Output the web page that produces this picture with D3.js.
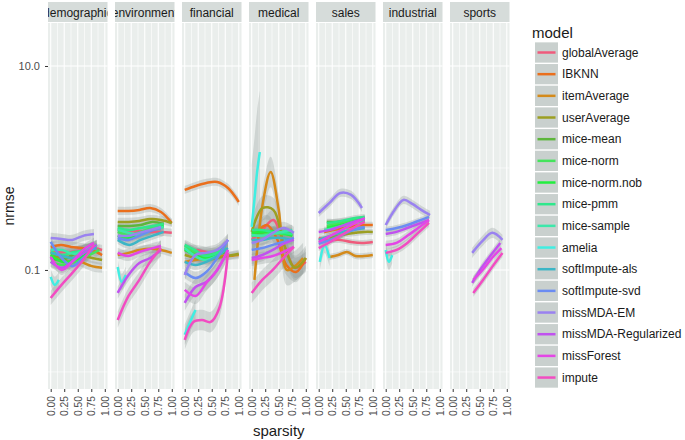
<!DOCTYPE html>
<html lang="en">
<head>
<meta charset="UTF-8">
<title>nrmse by sparsity</title>
<script src="https://cdn.jsdelivr.net/npm/d3@7"></script>
<style>
  body { margin: 0; background: #fff; }
  svg { display: block; font-family: 'Liberation Sans', Arial, sans-serif; }
</style>
</head>
<body>
<svg width="685" height="440"></svg>
<script>
const panels = ['demographic', 'environment', 'financial', 'medical', 'sales', 'industrial', 'sports']
const models = ['globalAverage', 'IBKNN', 'itemAverage', 'userAverage', 'mice-mean', 'mice-norm',
  'mice-norm.nob', 'mice-pmm', 'mice-sample', 'amelia', 'softImpute-als', 'softImpute-svd',
  'missMDA-EM', 'missMDA-Regularized', 'missForest', 'impute']
const xTicks = [0, 0.25, 0.5, 0.75, 1]
const yTicks = [0.1, 10]

// [model, sparsity from, sparsity to, nrmse (evenly spaced), se in log10]
const demographic = [
  ['globalAverage', 0, 0.95, [0.157, 0.150, 0.150, 0.157, 0.164, 0.157], 0.05],
  ['IBKNN', 0, 0.95, [0.168, 0.176, 0.168, 0.164, 0.157, 0.140], 0.05],
  ['itemAverage', 0, 0.95, [0.150, 0.140, 0.131, 0.120, 0.109, 0.105], 0.05],
  ['userAverage', 0, 0.95, [0.140, 0.131, 0.120, 0.137, 0.131, 0.125], 0.05],
  ['mice-mean', 0, 0.8, [0.131, 0.125, 0.140, 0.157, 0.168], 0.05],
  ['mice-norm', 0, 0.9, [0.120, 0.112, 0.120, 0.137, 0.157], 0.05],
  ['mice-norm.nob', 0, 0.85, [0.140, 0.120, 0.125, 0.140, 0.176], 0.05],
  ['mice-pmm', 0, 0.85, [0.150, 0.140, 0.150, 0.157, 0.172], 0.05],
  ['mice-sample', 0, 0.85, [0.157, 0.157, 0.144, 0.157, 0.176], 0.05],
  ['amelia', 0, 0.15, [0.0854, 0.0713, 0.0798], 0.08],
  ['softImpute-als', 0, 0.85, [0.147, 0.137, 0.131, 0.150, 0.164], 0.05],
  ['softImpute-svd', 0, 0.8, [0.188, 0.131, 0.109, 0.131, 0.164], 0.05],
  ['missMDA-EM', 0, 0.8, [0.206, 0.201, 0.197, 0.216, 0.225], 0.05],
  ['missMDA-Regularized', 0, 0.85, [0.120, 0.105, 0.125, 0.150, 0.176], 0.05],
  ['missForest', 0, 0.8, [0.134, 0.100, 0.120, 0.157, 0.184], 0.05],
  ['impute', 0, 0.8, [0.0531, 0.0713, 0.0935, 0.125, 0.176], 0.07]
]
const environment = [
  ['globalAverage', 0, 1, [0.247, 0.241, 0.241, 0.236, 0.236, 0.231], 0.04],
  ['IBKNN', 0, 1, [0.379, 0.379, 0.388, 0.405, 0.370, 0.289], 0.04],
  ['itemAverage', 0, 1, [0.140, 0.147, 0.157, 0.161, 0.157, 0.147], 0.04],
  ['userAverage', 0, 1, [0.296, 0.296, 0.302, 0.316, 0.309, 0.289], 0.04],
  ['mice-mean', 0, 0.85, [0.270, 0.270, 0.276, 0.296, 0.282], 0.04],
  ['mice-norm', 0, 0.85, [0.236, 0.220, 0.236, 0.258, 0.276], 0.04],
  ['mice-norm.nob', 0, 0.85, [0.216, 0.206, 0.225, 0.247, 0.270], 0.04],
  ['mice-pmm', 0, 0.85, [0.258, 0.247, 0.258, 0.270, 0.282], 0.04],
  ['mice-sample', 0, 0.85, [0.247, 0.231, 0.220, 0.247, 0.264], 0.04],
  ['amelia', 0, 0.15, [0.107, 0.0763, 0.0893], 0.08],
  ['softImpute-als', 0, 0.85, [0.197, 0.176, 0.197, 0.216, 0.236], 0.04],
  ['softImpute-svd', 0, 0.8, [0.206, 0.197, 0.216, 0.241, 0.258], 0.04],
  ['missMDA-EM', 0, 0.8, [0.216, 0.216, 0.231, 0.247, 0.264], 0.04],
  ['missMDA-Regularized', 0, 0.8, [0.0595, 0.0893, 0.117, 0.131, 0.157], 0.06],
  ['missForest', 0, 0.8, [0.147, 0.137, 0.150, 0.161, 0.172], 0.05],
  ['impute', 0, 0.8, [0.0323, 0.0556, 0.0798, 0.120, 0.164], 0.08]
]
const financial = [
  ['globalAverage', 0, 0.8, [0.157, 0.157, 0.150, 0.147, 0.157], 0.05],
  ['IBKNN', 0, 1, [0.609, 0.666, 0.713, 0.729, 0.637, 0.464], 0.04],
  ['itemAverage', 0, 1, [0.120, 0.125, 0.131, 0.137, 0.137, 0.140], 0.04],
  ['userAverage', 0, 1, [0.140, 0.131, 0.125, 0.131, 0.137, 0.144], 0.04],
  ['mice-mean', 0, 0.75, [0.164, 0.150, 0.140, 0.140, 0.150], 0.05],
  ['mice-norm', 0, 0.75, [0.172, 0.150, 0.144, 0.150, 0.172], 0.05],
  ['mice-norm.nob', 0, 0.75, [0.157, 0.140, 0.131, 0.140, 0.157], 0.05],
  ['mice-pmm', 0, 0.75, [0.176, 0.157, 0.137, 0.144, 0.164], 0.05],
  ['mice-sample', 0, 0.75, [0.164, 0.137, 0.125, 0.134, 0.157], 0.05],
  ['amelia', 0, 0.2, [0.0231, 0.0309, 0.0405], 0.1],
  ['softImpute-als', 0, 0.8, [0.120, 0.112, 0.120, 0.137, 0.164], 0.05],
  ['softImpute-svd', 0, 0.8, [0.0956, 0.0835, 0.0956, 0.131, 0.197], 0.06],
  ['missMDA-EM', 0, 0.8, [0.0893, 0.140, 0.147, 0.157, 0.197], 0.06],
  ['missMDA-Regularized', 0, 0.8, [0.0475, 0.0681, 0.0763, 0.100, 0.157], 0.08],
  ['missForest', 0, 0.8, [0.0637, 0.0556, 0.0746, 0.100, 0.157], 0.08],
  ['impute', 0, 0.8, [0.0206, 0.0309, 0.0323, 0.0309, 0.0424, 0.147], 0.1]
]
const medical = [
  ['globalAverage', 0, 1, [0.197, 0.247, 0.309, 0.176, 0.105, 0.120], 0.1],
  ['IBKNN', 0.1, 1, [0.236, 0.276, 0.206, 0.112, 0.0956, 0.131], 0.1],
  ['itemAverage', 0.05, 0.95, [0.0798, 0.434, 0.914, 0.388, 0.100, 0.109, 0.131], 0.15],
  ['userAverage', 0, 1, [0.236, 0.405, 0.388, 0.176, 0.105, 0.131], 0.12],
  ['mice-mean', 0, 0.75, [0.231, 0.231, 0.236, 0.236, 0.231], 0.05],
  ['mice-norm', 0, 0.75, [0.216, 0.220, 0.231, 0.225, 0.220], 0.05],
  ['mice-norm.nob', 0, 0.75, [0.231, 0.236, 0.241, 0.231, 0.216], 0.05],
  ['mice-pmm', 0, 0.75, [0.247, 0.247, 0.236, 0.231, 0.225], 0.05],
  ['mice-sample', 0, 0.75, [0.220, 0.216, 0.225, 0.236, 0.247], 0.05],
  ['amelia', 0, 0.15, [0.264, 0.486, 0.914, 1.435], 0.6],
  ['softImpute-als', 0, 0.75, [0.197, 0.197, 0.206, 0.206, 0.197], 0.05],
  ['softImpute-svd', 0, 0.78, [0.157, 0.164, 0.176, 0.188, 0.206], 0.05],
  ['missMDA-EM', 0, 0.78, [0.184, 0.197, 0.231, 0.258, 0.231], 0.06],
  ['missMDA-Regularized', 0, 0.78, [0.131, 0.140, 0.157, 0.180, 0.197], 0.06],
  ['missForest', 0, 0.78, [0.125, 0.131, 0.137, 0.150, 0.168], 0.06],
  ['impute', 0, 0.78, [0.0595, 0.0798, 0.100, 0.131, 0.168], 0.1]
]
const sales = [
  ['globalAverage', 0, 1, [0.206, 0.197, 0.197, 0.188, 0.184, 0.188], 0.03],
  ['IBKNN', 0.1, 1, [0.236, 0.247, 0.258, 0.270, 0.276, 0.276], 0.03],
  ['itemAverage', 0.2, 1, [0.134, 0.140, 0.150, 0.137, 0.137, 0.140], 0.03],
  ['userAverage', 0.2, 1, [0.206, 0.216, 0.225, 0.231, 0.236, 0.236], 0.03],
  ['mice-mean', 0.15, 0.85, [0.296, 0.296, 0.302, 0.309, 0.309], 0.03],
  ['mice-norm', 0.15, 0.85, [0.270, 0.282, 0.296, 0.309, 0.316], 0.03],
  ['mice-norm.nob', 0.15, 0.85, [0.258, 0.270, 0.282, 0.302, 0.323], 0.03],
  ['mice-pmm', 0.15, 0.85, [0.289, 0.296, 0.309, 0.323, 0.331], 0.03],
  ['mice-sample', 0.1, 0.85, [0.247, 0.258, 0.276, 0.296, 0.309], 0.03],
  ['amelia', 0.02, 0.2, [0.120, 0.176, 0.131], 0.08],
  ['softImpute-als', 0, 0.85, [0.197, 0.216, 0.236, 0.247, 0.258], 0.03],
  ['softImpute-svd', 0, 0.85, [0.180, 0.197, 0.220, 0.247, 0.264], 0.03],
  ['missMDA-EM', 0, 0.8, [0.362, 0.454, 0.569, 0.544, 0.405], 0.04],
  ['missMDA-Regularized', 0, 0.85, [0.236, 0.247, 0.270, 0.296, 0.316], 0.03],
  ['missForest', 0, 0.85, [0.188, 0.216, 0.247, 0.282, 0.323], 0.03],
  ['impute', 0, 0.85, [0.164, 0.188, 0.220, 0.258, 0.296], 0.03]
]
const industrial = [
  ['amelia', 0, 0.12, [0.157, 0.120, 0.140], 0.08],
  ['softImpute-svd', 0, 0.8, [0.247, 0.258, 0.276, 0.302, 0.331], 0.03],
  ['missMDA-EM', 0, 0.82, [0.276, 0.388, 0.486, 0.444, 0.388, 0.346], 0.04],
  ['missMDA-Regularized', 0, 0.8, [0.225, 0.236, 0.258, 0.282, 0.309], 0.03],
  ['missForest', 0, 0.8, [0.176, 0.184, 0.216, 0.258, 0.309], 0.04],
  ['impute', 0, 0.8, [0.147, 0.157, 0.184, 0.231, 0.289], 0.04]
]
const sports = [
  ['missMDA-EM', 0.36, 0.92, [0.147, 0.192, 0.231, 0.197], 0.05],
  ['missMDA-Regularized', 0.36, 0.88, [0.0746, 0.105, 0.140, 0.184], 0.04],
  ['missForest', 0.38, 0.9, [0.0798, 0.100, 0.131, 0.164], 0.04],
  ['impute', 0.38, 0.92, [0.0595, 0.0798, 0.109, 0.147], 0.04]
]
const panelData = [demographic, environment, financial, medical, sales, industrial, sports]

const colors = ['#ef5b7c', '#ea6f1c', '#d48a1a', '#9c9f22', '#5db63c', '#44e45c', '#22ef3e', '#2fe88c',
  '#3ce8aa', '#40eee2', '#3cb6c6', '#6b8cf2', '#9a82f0', '#c052ef', '#e446e6', '#f24cc2']

const padLeft = 48, padTop = 23, padBottom = 389, stripTop = 2
const pw = 59.5, gap = 7.5

const svg = d3.select('svg')
const color = d3.scaleOrdinal().domain(models).range(colors)
const y = d3.scaleLog().domain([0.0068, 26.4]).range([padBottom, padTop])
const curve = d3.curveCatmullRom.alpha(0.5)

panels.forEach((name, i) => {
  const x0 = padLeft + i * (pw + gap)
  const x = d3.scaleLinear().domain([-0.05, 1.05]).range([x0, x0 + pw])
  const g = svg.append('g')

  g.append('rect')
    .attr('x', x0).attr('y', padTop)
    .attr('width', pw).attr('height', padBottom - padTop)
    .attr('fill', '#eaeeec')

  // minor grid
  const minorX = xTicks.slice(1).map((t, k) => (t + xTicks[k]) / 2)
  g.selectAll('.vminor').data(minorX).enter().append('line')
    .attr('x1', d => x(d)).attr('x2', d => x(d))
    .attr('y1', padTop).attr('y2', padBottom)
    .attr('stroke', '#fff').attr('stroke-width', 0.6)
  g.selectAll('.hminor').data([0.01, 1]).enter().append('line')
    .attr('x1', x0).attr('x2', x0 + pw)
    .attr('y1', d => y(d)).attr('y2', d => y(d))
    .attr('stroke', '#fff').attr('stroke-width', 0.6)
  // major grid
  g.selectAll('.vmajor').data(xTicks).enter().append('line')
    .attr('x1', d => x(d)).attr('x2', d => x(d))
    .attr('y1', padTop).attr('y2', padBottom)
    .attr('stroke', '#fff').attr('stroke-width', 1.1)
  g.selectAll('.hmajor').data(yTicks).enter().append('line')
    .attr('x1', x0).attr('x2', x0 + pw)
    .attr('y1', d => y(d)).attr('y2', d => y(d))
    .attr('stroke', '#fff').attr('stroke-width', 1.1)

  const clipId = 'clip' + i
  svg.append('clipPath').attr('id', clipId).append('rect')
    .attr('x', x0).attr('y', padTop).attr('width', pw).attr('height', padBottom - padTop)

  const series = panelData[i].map(s => ({
    model: s[0],
    se: s[4],
    pts: s[3].map((v, k) => [s[1] + (s[2] - s[1]) * k / (s[3].length - 1), v])
  }))

  const line = d3.line().x(d => x(d[0])).y(d => y(d[1])).curve(curve)
  const plot = g.append('g').attr('clip-path', `url(#${clipId})`)

  series.forEach(s => {
    const area = d3.area()
      .x(d => x(d[0]))
      .y0(d => y(d[1] / Math.pow(10, s.se)))
      .y1(d => y(d[1] * Math.pow(10, s.se)))
      .curve(curve)
    plot.append('path').datum(s.pts)
      .attr('d', area)
      .attr('fill', '#8f9795').attr('fill-opacity', 0.3)
  })
  series.forEach(s => {
    plot.append('path').datum(s.pts)
      .attr('d', line)
      .attr('fill', 'none')
      .attr('stroke', color(s.model))
      .attr('stroke-width', 2.5)
      .attr('stroke-linejoin', 'round')
  })

  // strip
  const stripClip = 'strip' + i
  svg.append('clipPath').attr('id', stripClip).append('rect')
    .attr('x', x0).attr('y', stripTop).attr('width', pw).attr('height', padTop - stripTop - 1)
  g.append('rect')
    .attr('x', x0).attr('y', stripTop)
    .attr('width', pw).attr('height', padTop - stripTop - 1)
    .attr('fill', '#d6dcda')
  g.append('text')
    .attr('clip-path', `url(#${stripClip})`)
    .attr('x', x0 + pw / 2).attr('y', 16.5)
    .attr('text-anchor', 'middle')
    .attr('font-size', 12)
    .attr('fill', '#1a1a1a')
    .text(name)

  // x axis
  const ax = g.append('g')
    .attr('transform', `translate(0, ${padBottom})`)
    .call(d3.axisBottom(x).tickValues(xTicks).tickFormat(d3.format('.2f')).tickSize(3).tickPadding(2))
  ax.select('.domain').remove()
  ax.selectAll('.tick line').attr('stroke', '#333').attr('stroke-width', 1)
  ax.selectAll('.tick text')
    .attr('transform', 'rotate(-90)')
    .attr('text-anchor', 'end')
    .attr('x', -7).attr('y', 0).attr('dy', '0.35em')
    .attr('font-size', 10.3)
    .attr('font-family', "'Liberation Sans', Arial, sans-serif")
    .attr('fill', '#4d4d4d')
})

// y axis
const ay = svg.append('g')
  .attr('transform', `translate(${padLeft}, 0)`)
  .call(d3.axisLeft(y).tickValues(yTicks).tickFormat(d3.format('.1f')).tickSize(3).tickPadding(5))
ay.select('.domain').remove()
ay.selectAll('.tick line').attr('stroke', '#333')
ay.selectAll('.tick text')
  .attr('font-size', 11)
  .attr('font-family', "'Liberation Sans', Arial, sans-serif")
  .attr('fill', '#4d4d4d')

svg.append('text')
  .attr('transform', `translate(14, ${(padTop + padBottom) / 2}) rotate(-90)`)
  .attr('text-anchor', 'middle')
  .attr('font-size', 14)
  .attr('fill', '#1a1a1a')
  .text('nrmse')

svg.append('text')
  .attr('x', padLeft + (7 * pw + 6 * gap) / 2)
  .attr('y', 436)
  .attr('text-anchor', 'middle')
  .attr('font-size', 15)
  .attr('fill', '#1a1a1a')
  .text('sparsity')

// legend
const legend = svg.append('g')
legend.append('text')
  .attr('x', 532).attr('y', 38)
  .attr('font-size', 15)
  .attr('fill', '#1a1a1a')
  .text('model')

const rowH = 21.67
const item = legend.selectAll('.item').data(models).enter().append('g')
  .attr('transform', (d, k) => `translate(535, ${52.5 + k * rowH})`)
item.append('rect')
  .attr('x', 0).attr('y', -rowH / 2 + 0.7)
  .attr('width', 23).attr('height', rowH - 1.4)
  .attr('fill', '#c9d0ce')
item.append('line')
  .attr('x1', 2.5).attr('x2', 20.5)
  .attr('stroke', d => color(d))
  .attr('stroke-width', 2.5)
item.append('text')
  .attr('x', 27).attr('dy', '0.35em')
  .attr('font-size', 12)
  .attr('fill', '#1a1a1a')
  .text(d => d)
</script>
</body>
</html>
